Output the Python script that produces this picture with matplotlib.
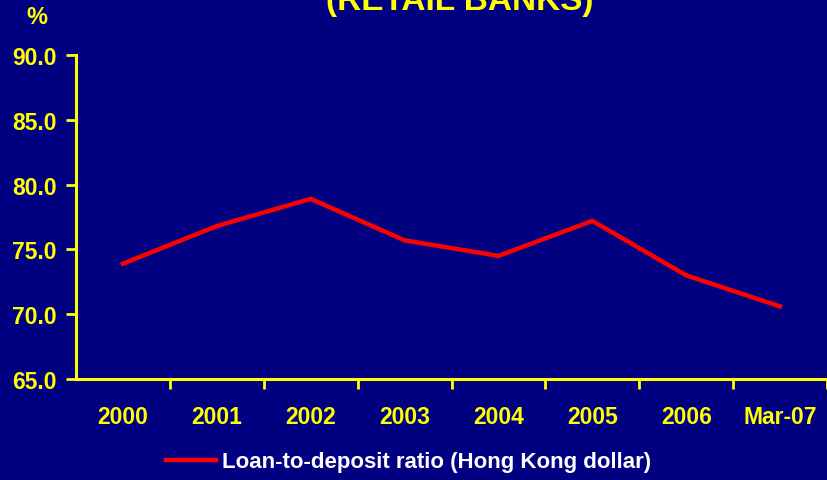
import matplotlib.pyplot as plt

plt.rcParams['font.family'] = ['Liberation Sans', 'DejaVu Sans']
plt.rcParams['font.weight'] = 'bold'

periods = ['2000', '2001', '2002', '2003', '2004', '2005', '2006', 'Mar-07']
ratio = [73.9, 76.8, 78.9, 75.7, 74.5, 77.2, 73.0, 70.6]

navy = '#000080'
yellow = '#FFFF00'

fig = plt.figure(figsize=(8.27, 4.81), dpi=100, facecolor=navy)
ax = fig.add_axes([76 / 827, 101 / 481, 751 / 827, 324 / 481], facecolor=navy)

x = range(len(periods))
ax.plot(x, ratio, color='#FF0000', lw=3.2, solid_joinstyle='miter',
        label='Loan-to-deposit ratio (Hong Kong dollar)')

ax.set_ylim(65, 90)
ax.set_yticks([65, 70, 75, 80, 85, 90])
ax.set_yticklabels([f'{v:.1f}' for v in [65, 70, 75, 80, 85, 90]])
ax.set_xlim(-0.5, -0.5 + 751 / 94.9)

# category labels sit between the tick marks
ax.set_xticks([i + 0.5 for i in range(len(periods))])
ax.set_xticklabels([])
ax.set_xticks(list(x), minor=True)
ax.set_xticklabels(periods, minor=True)
ax.tick_params(axis='x', which='major', length=7, width=2, color=yellow, direction='out')
ax.tick_params(axis='x', which='minor', length=0, pad=19, labelsize=16.5, labelcolor=yellow)
ax.tick_params(axis='y', length=7, width=2, color=yellow, pad=7,
               labelsize=16.5, labelcolor=yellow)

for s in ['top', 'right']:
    ax.spines[s].set_visible(False)
for s in ['left', 'bottom']:
    ax.spines[s].set_color(yellow)
    ax.spines[s].set_linewidth(2.2)

fig.text(37 / 827, 1 - 18 / 481, '%', color=yellow, fontsize=17, fontweight='bold',
         ha='center', va='center')
fig.text(460 / 827, 1 - 10 / 481, '(RETAIL BANKS)', color=yellow, fontsize=24,
         fontweight='bold', ha='center', va='baseline')

leg = fig.legend(loc='center', bbox_to_anchor=(0.494, 1 - 463 / 481), frameon=False,
                 fontsize=16, handlelength=2.25, handletextpad=0.3)
for t in leg.get_texts():
    t.set_color('white')
    t.set_fontweight('bold')

fig.savefig('out.png', dpi=100, facecolor=navy)
